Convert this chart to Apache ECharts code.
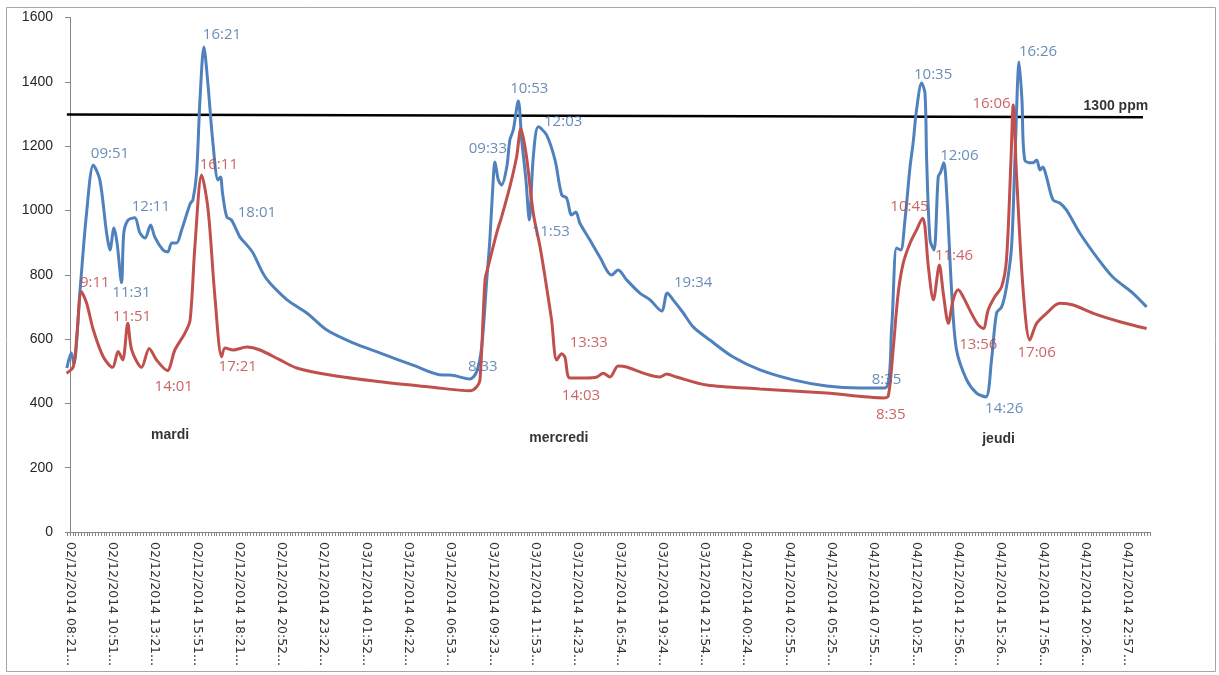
<!DOCTYPE html>
<html>
<head>
<meta charset="utf-8">
<script src="https://cdn.jsdelivr.net/npm/echarts@6/dist/echarts.min.js"></script>
<style>
html,body{margin:0;padding:0;background:#fff;}
#chart{width:1219px;height:675px;}
</style>
</head>
<body>
<div id="chart"></div>
<script>
// x values are minutes elapsed since 02/12/2014 08:21
const tickLabels = [
  "02/12/2014 08:21...","02/12/2014 10:51...","02/12/2014 13:21...","02/12/2014 15:51...",
  "02/12/2014 18:21...","02/12/2014 20:52...","02/12/2014 23:22...","03/12/2014 01:52...",
  "03/12/2014 04:22...","03/12/2014 06:53...","03/12/2014 09:23...","03/12/2014 11:53...",
  "03/12/2014 14:23...","03/12/2014 16:54...","03/12/2014 19:24...","03/12/2014 21:54...",
  "04/12/2014 00:24...","04/12/2014 02:55...","04/12/2014 05:25...","04/12/2014 07:55...",
  "04/12/2014 10:25...","04/12/2014 12:56...","04/12/2014 15:26...","04/12/2014 17:56...",
  "04/12/2014 20:26...","04/12/2014 22:57..."
];
const tickStep = 150;

const blueData = [
  [-11,510],[5,557],[14,522],[35,743],[59,992],[83,1141],[106,1095],[130,930],[142,877],[156,945],
  [167,899],[183,775],[191,930],[206,970],[230,977],[248,930],[266,914],[286,955],[301,917],[330,877],
  [347,871],[361,899],[378,899],[396,939],[426,1020],[436,1033],[449,1116],[461,1343],[475,1508],[489,1396],
  [507,1210],[525,1095],[534,1104],[541,1054],[556,980],[573,970],[603,917],[627,893],[649,868],[684,805],
  [709,774],[770,722],[840,681],[911,628],[1004,588],[1099,557],[1216,519],[1323,488],[1347,488],[1418,476],
  [1442,498],[1460,575],[1478,784],[1489,908],[1501,1095],[1507,1151],[1519,1095],[1531,1079],[1549,1135],[1560,1219],
  [1572,1250],[1590,1340],[1602,1219],[1617,1095],[1629,970],[1643,1166],[1661,1260],[1690,1235],[1720,1157],[1744,1048],
  [1761,1039],[1779,986],[1794,995],[1808,961],[1844,908],[1879,855],[1921,799],[1944,815],[1974,784],[2021,743],
  [2057,722],[2098,687],[2118,743],[2139,722],[2175,681],[2210,638],[2269,597],[2352,544],[2447,504],[2565,473],
  [2683,454],[2801,448],[2890,448],[2914,638],[2931,883],[2946,877],[2961,970],[2979,1135],[2990,1210],[3002,1312],
  [3020,1396],[3032,1365],[3038,1157],[3050,908],[3064,877],[3079,1104],[3088,1120],[3099,1148],[3109,1054],[3127,743],
  [3144,566],[3180,473],[3215,432],[3248,420],[3268,535],[3286,681],[3304,700],[3321,762],[3339,886],[3351,1157],
  [3366,1462],[3376,1343],[3386,1157],[3415,1148],[3428,1157],[3440,1126],[3450,1135],[3463,1104],[3486,1033],[3510,1023],
  [3534,1001],[3581,930],[3641,855],[3698,793],[3769,743],[3818,700]
];

const redData = [
  [-12,494],[12,514],[24,607],[41,747],[59,712],[83,628],[118,545],[151,512],[171,561],[187,535],
  [205,649],[219,566],[254,512],[281,571],[307,535],[345,502],[372,566],[408,619],[426,659],[443,887],
  [467,1110],[490,1001],[514,732],[538,545],[550,572],[579,566],[627,575],[674,566],[745,535],[804,510],
  [922,488],[1099,467],[1277,451],[1418,439],[1442,451],[1454,473],[1472,784],[1483,825],[1513,929],[1531,981],
  [1560,1074],[1584,1167],[1599,1255],[1619,1167],[1643,991],[1667,887],[1690,763],[1708,659],[1726,535],[1744,554],
  [1755,544],[1773,479],[1832,479],[1868,482],[1891,494],[1915,482],[1944,516],[1974,513],[2033,494],[2092,482],
  [2116,491],[2151,482],[2258,457],[2447,445],[2683,432],[2884,417],[2902,423],[2919,566],[2937,742],[2955,836],
  [2979,898],[3002,939],[3024,976],[3032,949],[3044,825],[3062,722],[3083,830],[3097,742],[3115,649],[3132,722],
  [3150,753],[3167,732],[3197,680],[3221,644],[3239,633],[3256,690],[3280,732],[3304,763],[3321,846],[3337,1157],
  [3345,1328],[3357,1105],[3381,742],[3404,597],[3428,649],[3463,680],[3510,711],[3558,706],[3629,680],[3723,654],
  [3818,633]
];

const limitData = [[-11,1298],[3805,1290]];

// annotation text anchors [minutes, ppm, text]
const blueNotes = [
  [142,1176,"09:51"],[218,743,"11:31"],[287,1011,"12:11"],[539,1546,"16:21"],[663,992,"18:01"],
  [1482,1191,"09:33"],[1629,1378,"10:53"],[1749,1275,"12:03"],[1705,933,"11:53"],[2210,775,"19:34"],
  [1464,514,"8:33"],[3061,1421,"10:35"],[3154,1170,"12:06"],[2896,473,"8:35"],[3313,383,"14:26"],
  [3433,1493,"16:26"]
];
const redNotes = [
  [88,775,"9:11"],[220,668,"11:51"],[528,1141,"16:11"],[368,452,"14:01"],[595,514,"17:21"],
  [1840,590,"13:33"],[1812,424,"14:03"],[2911,366,"8:35"],[2977,1012,"10:45"],[3135,858,"11:46"],
  [3221,582,"13:56"],[3268,1333,"16:06"],[3428,558,"17:06"]
];
const dayNotes = [[355,302,"mardi"],[1734,291,"mercredi"],[3293,290,"jeudi"],[3709,1325,"1300 ppm"]];

const xMin = -14, xMax = 3830;
const labelValues = tickLabels.map((_, i) => i * tickStep);
const minorTicks = [];
for (let t = -10; t <= xMax; t += 10) minorTicks.push(t);

function noteSeries(notes, color, bold, size) {
  return {
    type: 'scatter',
    symbolSize: 0,
    silent: true,
    z: 5,
    data: notes.map(n => ({ value: [n[0], n[1]], name: n[2] })),
    label: {
      show: true,
      position: 'inside',
      formatter: p => p.name,
      color: color,
      fontFamily: bold ? 'Liberation Sans' : 'Open Sans',
      fontWeight: bold ? 'bold' : 'normal',
      fontSize: size
    }
  };
}

const chart = echarts.init(document.getElementById('chart'), null, { renderer: 'canvas' });
chart.setOption({
  animation: false,
  backgroundColor: '#ffffff',
  graphic: [{
    type: 'rect',
    shape: { x: 6.5, y: 7.5, width: 1209, height: 664 },
    style: { fill: 'none', stroke: '#a6a6a6', lineWidth: 1 },
    z: -1
  }],
  grid: { left: 66, right: 69, top: 17.5, bottom: 143, containLabel: false },
  xAxis: {
    type: 'value',
    min: xMin,
    max: xMax,
    splitLine: { show: false },
    axisLine: { show: true, onZero: false, lineStyle: { color: '#868686', width: 1 } },
    axisTick: { show: true, customValues: minorTicks, length: 4, lineStyle: { color: '#868686' } },
    axisLabel: {
      customValues: labelValues,
      rotate: -90,
      margin: 10,
      fontFamily: 'DejaVu Sans',
      fontSize: 12.5,
      color: '#333333',
      formatter: v => tickLabels[Math.round(v / tickStep)] || ''
    }
  },
  yAxis: {
    type: 'value',
    min: 0,
    max: 1600,
    interval: 200,
    splitLine: { show: false },
    axisLine: { show: true, lineStyle: { color: '#868686', width: 1 } },
    axisTick: { show: true, length: 5, lineStyle: { color: '#868686' } },
    axisLabel: { margin: 13, fontFamily: 'Liberation Sans', fontSize: 14, color: '#262626', formatter: v => String(v) }
  },
  series: [
    {
      name: 'bleu', type: 'line', data: blueData, smooth: 0.3, showSymbol: false,
      lineStyle: { color: '#4F81BD', width: 3 }, itemStyle: { color: '#4F81BD' }, z: 3
    },
    {
      name: 'rouge', type: 'line', data: redData, smooth: 0.3, showSymbol: false,
      lineStyle: { color: '#C0504D', width: 3 }, itemStyle: { color: '#C0504D' }, z: 4
    },
    {
      name: 'limite', type: 'line', data: limitData, showSymbol: false,
      lineStyle: { color: '#000000', width: 2.5 }, z: 2
    },
    noteSeries(blueNotes, '#4470A6', false, 15),
    noteSeries(redNotes, '#BE3F3C', false, 15),
    noteSeries(dayNotes, '#000000', true, 14)
  ]
});
</script>
</body>
</html>
